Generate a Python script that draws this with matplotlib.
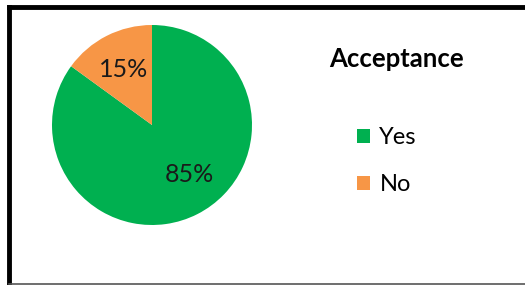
import matplotlib.pyplot as plt
from matplotlib.lines import Line2D
from matplotlib.patches import Patch

labels = ['Yes', 'No']
values = [85, 15]
colors = ['#00B050', '#F79646']
title = 'Acceptance'

W, H = 525, 285
fig = plt.figure(figsize=(W/100, H/100), dpi=100)
fig.patch.set_facecolor('white')

# pie axes: centre (152,125), radius 100 px
ax = fig.add_axes([52/W, 1 - 225/H, 200/W, 200/H])
wedges, texts, autotexts = ax.pie(values, colors=colors, startangle=90, counterclock=False,
                                  autopct='%d%%', pctdistance=0.62,
                                  wedgeprops=dict(linewidth=0),
                                  textprops=dict(fontsize=18, color='#1a1a1a', family='Lato'))
ax.set_xlim(-1, 1)
ax.set_ylim(-1, 1)
# Excel puts the big slice's label a bit off the mid-angle
autotexts[0].set_position((0.37, -0.5))

fig.text(396/W, 1 - 59/H, title, ha='center', va='center', fontsize=18.5,
         fontweight='bold', family='Lato')

handles = [Patch(facecolor=c, edgecolor='none') for c in colors]
leg = fig.legend(handles, labels, loc='upper left', bbox_to_anchor=(357/W, 1 - 127/H),
                 frameon=False, prop=dict(family='Lato', size=17),
                 handlelength=0.55, handleheight=0.55, handletextpad=0.4,
                 labelspacing=1.1, borderaxespad=0, borderpad=0)

# chart frame (cropped on the right)
fig.add_artist(Line2D([8.5/W, 8.5/W], [0, 1 - 7/H], color='black', lw=3.5,
                      solid_capstyle='projecting'))
fig.add_artist(Line2D([8.5/W, 1], [1 - 7/H, 1 - 7/H], color='black', lw=3.5,
                      solid_capstyle='projecting'))
fig.add_artist(Line2D([8.5/W, 1], [1.5/H, 1.5/H], color='#555555', lw=1.2))

fig.savefig('out.png', dpi=100)
